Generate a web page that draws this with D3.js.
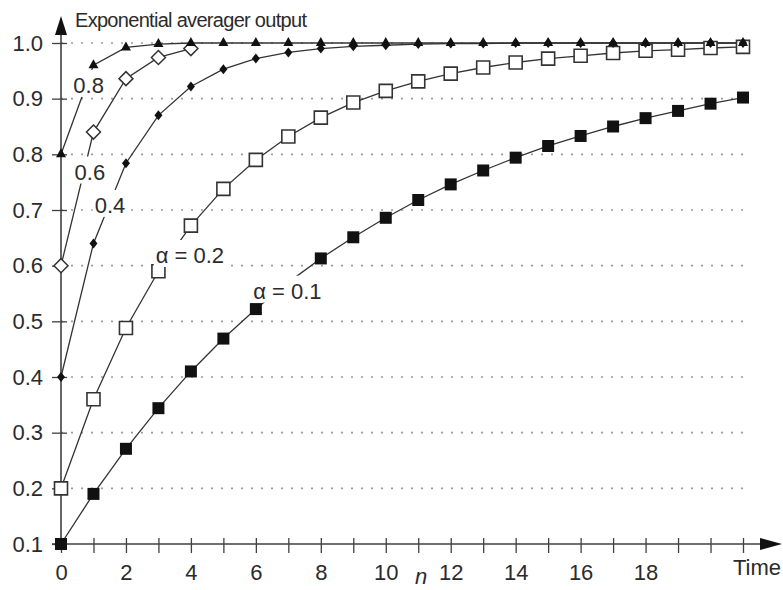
<!DOCTYPE html>
<html>
<head>
<meta charset="utf-8">
<script src="https://cdn.jsdelivr.net/npm/d3@7"></script>
<style>
  html, body { margin: 0; padding: 0; background: #fff; }
  svg { display: block; font-family: "Liberation Sans", Arial, Helvetica, sans-serif; }
</style>
</head>
<body>
<svg id="chart" width="783" height="590"></svg>
<script>
// ---------------- data ----------------
const nValues = [0,1,2,3,4,5,6,7,8,9,10,11,12,13,14,15,16,17,18,19,20,21];
const xTickLabels = [0,2,4,6,8,10,12,14,16,18];
const yTickValues = [0.1,0.2,0.3,0.4,0.5,0.6,0.7,0.8,0.9,1.0];

const alpha01 = [0.100,0.190,0.271,0.344,0.410,0.469,0.522,0.570,0.613,0.651,0.686,0.718,0.746,0.771,0.794,0.815,0.833,0.850,0.865,0.878,0.891,0.902];
const alpha02 = [0.200,0.360,0.488,0.590,0.672,0.738,0.790,0.832,0.866,0.893,0.914,0.931,0.945,0.956,0.965,0.972,0.977,0.982,0.986,0.988,0.991,0.993];
const alpha04 = [0.400,0.640,0.784,0.870,0.922,0.953,0.972,0.983,0.990,0.994,0.996,0.998,0.999,0.999,1.000,1.000,1.000,1.000,1.000,1.000,1.000,1.000];
const alpha06 = [0.600,0.840,0.936,0.974,0.990];
const alpha08 = [0.800,0.960,0.992,0.998,1.000,1.000,1.000,1.000,1.000,1.000,1.000,1.000,1.000,1.000,1.000,1.000,1.000,1.000,1.000,1.000,1.000,1.000];

const seriesNames = ["α = 0.1","α = 0.2","0.4","0.6","0.8"];
// label anchors in data units (n, output)
const labelN = [6.97, 3.97, 1.51, 0.89, 0.85];
const labelV = [0.555, 0.619, 0.709, 0.769, 0.9246];

const titleText = "Exponential averager output";
const xEndLabel = "Time";
const xVarLabel = "n";

// ---------------- layout ----------------
const svg = d3.select("#chart");
const x = d3.scaleLinear().domain([0, 21]).range([61, 743]);
const y = d3.scaleLinear().domain([0.1, 1.0]).range([544, 43]);

const ink = "#2b2b2b";
const axisInk = "#404040";
const fontSize = 22;

// grid
svg.append("g").selectAll("line")
  .data(yTickValues.filter(v => v > 0.15))
  .join("line")
  .attr("x1", x(0)).attr("x2", x(21))
  .attr("y1", d => y(d)).attr("y2", d => y(d))
  .attr("stroke", "#9a9a9a").attr("stroke-width", 1.6)
  .attr("stroke-dasharray", "2,8");

// x ticks (crossing)
const gxt = svg.append("g").attr("transform", `translate(0,${y(0.1) - 6})`)
  .call(d3.axisBottom(x).tickValues(nValues).tickSize(15).tickFormat(""));
gxt.select(".domain").remove();
gxt.selectAll("line").attr("stroke", axisInk).attr("stroke-width", 1.3);

// x labels
const gxl = svg.append("g").attr("transform", `translate(0,${y(0.1)})`)
  .call(d3.axisBottom(x).tickValues(xTickLabels).tickSize(0).tickPadding(20).tickFormat(d3.format("d")));
gxl.select(".domain").remove();
gxl.selectAll("text").attr("font-size", fontSize).attr("fill", ink).attr("font-family", null);

// y ticks and labels
const gy = svg.append("g").attr("transform", `translate(${x(0) + 6},0)`)
  .call(d3.axisLeft(y).tickValues(yTickValues).tickSize(15).tickPadding(9).tickFormat(d3.format(".1f")));
gy.select(".domain").remove();
gy.selectAll("line").attr("stroke", axisInk).attr("stroke-width", 1.3);
gy.selectAll("text").attr("font-size", fontSize).attr("fill", ink).attr("font-family", null);

// axis lines with arrows
svg.append("line").attr("x1", x(0)).attr("x2", x(0)).attr("y1", y(0.1) + 6).attr("y2", 32)
  .attr("stroke", axisInk).attr("stroke-width", 1.6);
svg.append("path").attr("d", `M${x(0)},16 L${x(0) - 6},35 L${x(0) + 6},35 Z`).attr("fill", "#111");
svg.append("line").attr("x1", x(0) - 9).attr("x2", 764).attr("y1", y(0.1)).attr("y2", y(0.1))
  .attr("stroke", axisInk).attr("stroke-width", 1.6);
svg.append("path").attr("d", `M782,${y(0.1)} L760,${y(0.1) - 6} L760,${y(0.1) + 6} Z`).attr("fill", "#111");

// title and axis texts
svg.append("text").attr("x", 75).attr("y", 27).attr("font-size", 20).attr("fill", ink)
  .attr("letter-spacing", -0.7).text(titleText);
svg.append("text").attr("x", 781).attr("y", 575).attr("text-anchor", "end")
  .attr("font-size", fontSize).attr("fill", ink).text(xEndLabel);
svg.append("text").attr("x", 421).attr("y", 584).attr("text-anchor", "middle")
  .attr("font-size", fontSize).attr("font-style", "italic").attr("fill", ink).text(xVarLabel);

// series
const line = d3.line().x((d, i) => x(nValues[i])).y(d => y(d));
const allSeries = [alpha01, alpha02, alpha04, alpha06, alpha08];
const gLines = svg.append("g");
allSeries.forEach(s => {
  gLines.append("path").attr("d", line(s)).attr("fill", "none")
    .attr("stroke", "#333").attr("stroke-width", 1.3);
});

const gMarks = svg.append("g");
function drawMarkers(s, shape) {
  const sel = gMarks.append("g").selectAll("path").data(s).join("path")
    .attr("transform", (d, i) => `translate(${x(nValues[i])},${y(d)})`);
  if (shape === "fsq") sel.attr("d", "M-6,-6H6V6H-6Z").attr("fill", "#111");
  if (shape === "osq") sel.attr("d", "M-6.5,-6.5H6.5V6.5H-6.5Z").attr("fill", "#fff").attr("stroke", "#333").attr("stroke-width", 1.6);
  if (shape === "fdi") sel.attr("d", "M0,-5L4,0L0,5L-4,0Z").attr("fill", "#111");
  if (shape === "odi") sel.attr("d", "M0,-7L7,0L0,7L-7,0Z").attr("fill", "#fff").attr("stroke", "#333").attr("stroke-width", 1.5);
  if (shape === "ftr") sel.attr("d", "M0,-6L5,3L-5,3Z").attr("fill", "#111");
}
drawMarkers(alpha01, "fsq");
drawMarkers(alpha02, "osq");
drawMarkers(alpha04, "fdi");
drawMarkers(alpha06, "odi");
drawMarkers(alpha08, "ftr");

// labels with white knock-out boxes
const gLab = svg.append("g");
seriesNames.forEach((name, i) => {
  const g = gLab.append("g");
  const t = g.append("text").attr("x", x(labelN[i])).attr("y", y(labelV[i]))
    .attr("text-anchor", "middle").attr("dy", "0.36em")
    .attr("font-size", fontSize).attr("fill", ink).text(name);
  const b = t.node().getBBox();
  g.insert("rect", "text").attr("x", b.x - 2).attr("y", b.y - 3)
    .attr("width", b.width + 4).attr("height", b.height + 2).attr("fill", "#fff");
});
</script>
</body>
</html>
